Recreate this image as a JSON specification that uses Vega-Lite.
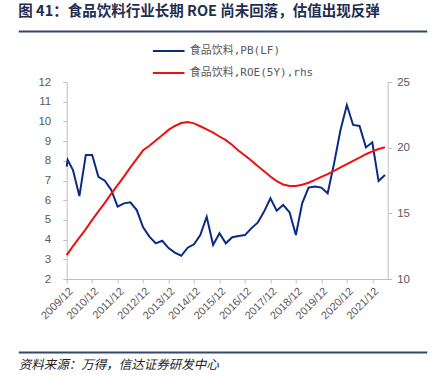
{
"$schema":"https://vega.github.io/schema/vega-lite/v6.json",
"width":321,"height":197,
"autosize":"none",
"padding":{"left":66.7,"top":82,"right":54.3,"bottom":107},
"background":"#ffffff",
"title":{"text":"图 41：食品饮料行业长期 ROE 尚未回落，估值出现反弹","anchor":"start","frame":"group","dx":-48.4,"offset":5,"baseline":"middle","font":"Noto Sans CJK SC","fontSize":14.5,"fontWeight":"bold","color":"#1F2D50"},
"config":{"view":{"stroke":null},"axis":{"labelOverlap":false},
  "legend":{"orient":"none","legendX":85,"legendY":-48,"symbolType":"stroke","symbolSize":1000,"symbolStrokeWidth":2,"labelFont":"DejaVu Sans Mono, Noto Sans CJK SC","labelFontSize":11,"labelColor":"#595959","rowPadding":-8,"padding":0,"labelOffset":4}},
"datasets":{
"pb":[
{"date":"2009-12-01","value":7.7},{"date":"2009-12-15","value":8.04},
{"date":"2010-03-01","value":7.53},{"date":"2010-06-01","value":6.21},{"date":"2010-09-01","value":8.3},{"date":"2010-12-01","value":8.3},
{"date":"2011-03-01","value":7.19},{"date":"2011-06-01","value":6.99},{"date":"2011-09-01","value":6.52},{"date":"2011-12-01","value":5.67},
{"date":"2012-03-01","value":5.84},{"date":"2012-06-01","value":5.89},{"date":"2012-09-01","value":5.5},{"date":"2012-12-01","value":4.62},
{"date":"2013-03-01","value":4.15},{"date":"2013-06-01","value":3.81},{"date":"2013-09-01","value":3.94},{"date":"2013-12-01","value":3.57},
{"date":"2014-03-01","value":3.34},{"date":"2014-06-01","value":3.18},{"date":"2014-09-01","value":3.59},{"date":"2014-12-01","value":3.76},
{"date":"2015-03-01","value":4.23},{"date":"2015-06-01","value":5.16},{"date":"2015-09-01","value":3.73},{"date":"2015-12-01","value":4.32},
{"date":"2016-03-01","value":3.81},{"date":"2016-06-01","value":4.12},{"date":"2016-09-01","value":4.18},{"date":"2016-12-01","value":4.23},
{"date":"2017-03-01","value":4.57},{"date":"2017-06-01","value":4.86},{"date":"2017-09-01","value":5.42},{"date":"2017-12-01","value":6.1},
{"date":"2018-03-01","value":5.47},{"date":"2018-06-01","value":5.76},{"date":"2018-09-01","value":5.39},{"date":"2018-12-01","value":4.23},
{"date":"2019-03-01","value":5.84},{"date":"2019-06-01","value":6.64},{"date":"2019-09-01","value":6.69},{"date":"2019-12-01","value":6.64},
{"date":"2020-03-01","value":6.35},{"date":"2020-06-01","value":7.87},{"date":"2020-09-01","value":9.56},{"date":"2020-12-01","value":10.83},
{"date":"2021-03-01","value":9.82},{"date":"2021-06-01","value":9.77},{"date":"2021-09-01","value":8.68},{"date":"2021-12-01","value":8.94},
{"date":"2022-03-01","value":6.97},{"date":"2022-06-01","value":7.28}
],
"roe":[
{"date":"2009-12-01","value":11.82},
{"date":"2010-03-01","value":12.5},{"date":"2010-06-01","value":13.15},{"date":"2010-09-01","value":13.8},{"date":"2010-12-01","value":14.5},
{"date":"2011-03-01","value":15.15},{"date":"2011-06-01","value":15.8},{"date":"2011-09-01","value":16.5},{"date":"2011-12-01","value":17.15},
{"date":"2012-03-01","value":17.8},{"date":"2012-06-01","value":18.5},{"date":"2012-09-01","value":19.15},{"date":"2012-12-01","value":19.8},
{"date":"2013-03-01","value":20.15},{"date":"2013-06-01","value":20.55},{"date":"2013-09-01","value":20.95},{"date":"2013-12-01","value":21.35},
{"date":"2014-03-01","value":21.65},{"date":"2014-06-01","value":21.88},{"date":"2014-09-01","value":21.95},{"date":"2014-12-01","value":21.85},
{"date":"2015-03-01","value":21.63},{"date":"2015-06-01","value":21.4},{"date":"2015-09-01","value":21.15},{"date":"2015-12-01","value":20.85},
{"date":"2016-03-01","value":20.57},{"date":"2016-06-01","value":20.2},{"date":"2016-09-01","value":19.77},{"date":"2016-12-01","value":19.4},
{"date":"2017-03-01","value":19.03},{"date":"2017-06-01","value":18.6},{"date":"2017-09-01","value":18.2},{"date":"2017-12-01","value":17.8},
{"date":"2018-03-01","value":17.45},{"date":"2018-06-01","value":17.2},{"date":"2018-09-01","value":17.08},{"date":"2018-12-01","value":17.08},
{"date":"2019-03-01","value":17.18},{"date":"2019-06-01","value":17.33},{"date":"2019-09-01","value":17.55},{"date":"2019-12-01","value":17.77},
{"date":"2020-03-01","value":17.98},{"date":"2020-06-01","value":18.23},{"date":"2020-09-01","value":18.5},{"date":"2020-12-01","value":18.75},
{"date":"2021-03-01","value":19.0},{"date":"2021-06-01","value":19.25},{"date":"2021-09-01","value":19.5},{"date":"2021-12-01","value":19.72},
{"date":"2022-03-01","value":19.9},{"date":"2022-06-01","value":20.03}
]},
"layer":[
 {"encoding":{"x":{"field":"date","type":"temporal",
  "scale":{"type":"utc","domain":[{"year":2009,"month":12,"date":1,"utc":true},{"year":2022,"month":7,"date":10,"utc":true}]},
  "axis":{"values":[{"year":2009,"month":12,"date":1,"utc":true},{"year":2010,"month":12,"date":1,"utc":true},{"year":2011,"month":12,"date":1,"utc":true},{"year":2012,"month":12,"date":1,"utc":true},{"year":2013,"month":12,"date":1,"utc":true},{"year":2014,"month":12,"date":1,"utc":true},{"year":2015,"month":12,"date":1,"utc":true},{"year":2016,"month":12,"date":1,"utc":true},{"year":2017,"month":12,"date":1,"utc":true},{"year":2018,"month":12,"date":1,"utc":true},{"year":2019,"month":12,"date":1,"utc":true},{"year":2020,"month":12,"date":1,"utc":true},{"year":2021,"month":12,"date":1,"utc":true}],
    "format":"%Y/%m","labelAngle":-45,"labelFlush":false,"labelOverlap":false,"labelFont":"Liberation Sans","labelFontSize":11,"labelColor":"#595959","labelPadding":2,"tickSize":4,"tickColor":"#BFBFBF","domainColor":"#BFBFBF","grid":false,"orient":"bottom",
    "title":"资料来源：万得，信达证券研发中心","titleX":-48.4,"titleY":85,"titleAnchor":"start","titleAlign":"left","titleBaseline":"middle","titleFont":"Noto Sans CJK SC","titleFontSize":12.5,"titleFontStyle":"italic","titleFontWeight":"normal","titleColor":"#222222"}}},
  "layer":[
   {"data":{"name":"pb"},"mark":{"type":"line","strokeWidth":2},
    "encoding":{"y":{"field":"value","type":"quantitative","scale":{"domain":[2,12]},
       "axis":{"orient":"left","values":[2,3,4,5,6,7,8,9,10,11,12],"labelOverlap":false,"title":null,"grid":false,"labelFont":"Liberation Sans","labelFontSize":11.5,"labelColor":"#595959","tickSize":4,"tickColor":"#BFBFBF","domainColor":"#BFBFBF","labelPadding":12}},
     "color":{"datum":"食品饮料,PB(LF)","type":"nominal","scale":{"domain":["食品饮料,PB(LF)","食品饮料,ROE(5Y),rhs"],"range":["#0A2A84","#EE1111"]},"legend":{"title":null}}}},
   {"data":{"name":"roe"},"mark":{"type":"line","strokeWidth":2},
    "encoding":{"y":{"field":"value","type":"quantitative","scale":{"domain":[10,25]},
       "axis":{"orient":"right","values":[10,15,20,25],"labelOverlap":false,"title":null,"grid":false,"labelFont":"Liberation Sans","labelFontSize":11.5,"labelColor":"#595959","tickSize":4,"tickColor":"#BFBFBF","domainColor":"#BFBFBF","labelPadding":5}},
     "color":{"datum":"食品饮料,ROE(5Y),rhs","type":"nominal","legend":{"title":null}}}}
  ],
  "resolve":{"scale":{"y":"independent"}}
 },
 {"layer":[
   {"data":{"values":[{}]},"mark":{"type":"point","opacity":0},
    "encoding":{"x":{"datum":0,"type":"quantitative","scale":{"domain":[0,1],"range":[-48.4,360]},
      "axis":{"orient":"top","offset":51,"domain":true,"domainColor":"#33466B","domainWidth":2,"ticks":false,"labels":false,"grid":false,"title":null}}}}
 ]},
 {"data":{"values":[{}]},"mark":{"type":"point","opacity":0},
  "encoding":{"x":{"datum":0,"type":"quantitative","scale":{"domain":[0,1],"range":[-48.4,360]},
    "axis":{"orient":"bottom","offset":73,"domain":true,"domainColor":"#33466B","domainWidth":2,"ticks":false,"labels":false,"grid":false,"title":null}}}}
],
"resolve":{"scale":{"x":"independent","y":"independent"}}
}
